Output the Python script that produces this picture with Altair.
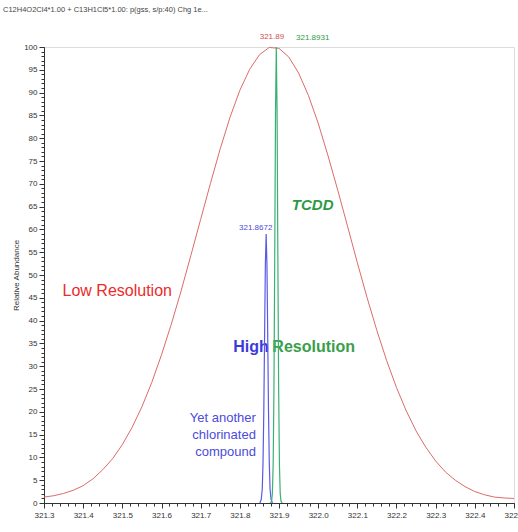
import altair as alt
import pandas as pd

# ---------------- data ----------------
low_x = [321.300, 321.325, 321.350, 321.375, 321.400, 321.425, 321.450, 321.475,
         321.500, 321.525, 321.550, 321.575, 321.600, 321.625, 321.650, 321.675,
         321.700, 321.725, 321.750, 321.775, 321.800, 321.825, 321.850, 321.875,
         321.900, 321.925, 321.950, 321.975, 322.000, 322.025, 322.050, 322.075,
         322.100, 322.125, 322.150, 322.175, 322.200, 322.225, 322.250, 322.275,
         322.300, 322.325, 322.350, 322.375, 322.400, 322.425, 322.450, 322.475,
         322.500]
low_y = [1.3, 1.6, 2.1, 2.8, 3.8, 5.3, 7.3, 9.7,
         12.8, 16.6, 21.1, 26.4, 32.5, 39.2, 46.5, 54.3,
         62.2, 70.1, 77.7, 84.6, 90.5, 95.1, 98.3, 99.9,
         99.7, 97.8, 94.3, 89.4, 83.3, 76.2, 68.6, 60.7,
         52.7, 45.0, 37.8, 31.2, 25.3, 20.2, 15.8, 12.2,
         9.2, 6.8, 5.0, 3.6, 2.5, 1.8, 1.3, 1.1,
         1.0]

blue_x = [321.8512, 321.8547, 321.8572, 321.8592, 321.8612, 321.8632, 321.8652, 321.8672,
          321.8692, 321.8712, 321.8732, 321.8752, 321.8772, 321.8797, 321.8832]
blue_y = [0, 0.8, 3.0, 8.8, 20.2, 36.7, 52.4, 59.0, 52.4, 36.7, 20.2, 8.8, 3.0, 0.8, 0]

green_x = [321.8781, 321.8811, 321.8831, 321.8851, 321.8871, 321.8891, 321.8911, 321.8931,
           321.8951, 321.8971, 321.8991, 321.9011, 321.9031, 321.9051, 321.9081]
green_y = [0, 0.4, 2.1, 8.5, 24.9, 53.9, 85.7, 100, 85.7, 53.9, 24.9, 8.5, 2.1, 0.4, 0]

x_tick_labels = [321.3, 321.4, 321.5, 321.6, 321.7, 321.8, 321.9,
                 322.0, 322.1, 322.2, 322.3, 322.4, 322.5]
x_minor_ticks = [round(321.3 + 0.02 * i, 2) for i in range(61)]
y_tick_labels = [0, 5, 10, 15, 20, 25, 30, 35, 40, 45, 50, 55, 60, 65, 70, 75,
                 80, 85, 90, 95, 100]
y_minor_ticks = list(range(0, 101))

title_text = "C12H4O2Cl4*1.00 + C13H1Cl5*1.00: p(gss, s/p:40) Chg 1e..."

peak_label_text = ["321.89", "321.8931", "321.8672"]
peak_label_x = [321.882, 321.986, 321.8405]
peak_label_y = [102.3, 102.0, 60.3]

# ---------------- styling ----------------
FONT = "Liberation Sans"
RED_LINE = "#dc6b6b"
BLUE_LINE = "#5a5ae6"
GREEN_LINE = "#3cb070"

xs = alt.Scale(domain=[321.3, 322.5], nice=False, zero=False)
ys = alt.Scale(domain=[0, 100], nice=False, zero=False)

x_major = alt.Axis(values=x_tick_labels, format=".1f", tickSize=5, labelFontSize=8,
                   labelFont=FONT, labelColor="#333", domainColor="#333",
                   tickColor="#333", grid=False, title=None, labelPadding=3,
                   orient="bottom", labelFlush=False, labelOverlap=False)
y_major = alt.Axis(values=y_tick_labels, format="d", tickSize=5, labelFontSize=8,
                   labelFont=FONT, labelColor="#333", domainColor="#333",
                   tickColor="#333", grid=False, title="Relative Abundance",
                   titleFontSize=8, titleFont=FONT, titleFontWeight="normal",
                   titleColor="#333", titlePadding=3, orient="left",
                   labelFlush=False, labelOverlap=False)
x_minor = alt.Axis(values=x_minor_ticks, labels=False, tickSize=3, domain=False,
                   tickColor="#333", grid=False, title=None, orient="bottom")
y_minor = alt.Axis(values=y_minor_ticks, labels=False, tickSize=3, domain=False,
                   tickColor="#333", grid=False, title=None, orient="left")

low_df = pd.DataFrame({"x": low_x, "y": low_y})
blue_df = pd.DataFrame({"x": blue_x, "y": blue_y})
green_df = pd.DataFrame({"x": green_x, "y": green_y})

low = alt.Chart(low_df).mark_line(color=RED_LINE, strokeWidth=1).encode(
    x=alt.X("x:Q", scale=xs, axis=x_major),
    y=alt.Y("y:Q", scale=ys, axis=y_major),
)
minor = alt.Chart(low_df).mark_line(opacity=0).encode(
    x=alt.X("x:Q", scale=xs, axis=x_minor),
    y=alt.Y("y:Q", scale=ys, axis=y_minor),
)

def line(df, color, w):
    return alt.Chart(df).mark_line(color=color, strokeWidth=w).encode(
        x=alt.X("x:Q", scale=xs, axis=None),
        y=alt.Y("y:Q", scale=ys, axis=None),
    )

def text(rows, color, size, weight="normal", style="normal", align="center"):
    df = pd.DataFrame(rows, columns=["t", "x", "y"])
    return alt.Chart(df).mark_text(
        color=color, fontSize=size, font=FONT, fontWeight=weight,
        fontStyle=style, align=align, baseline="middle"
    ).encode(
        x=alt.X("x:Q", scale=xs, axis=None),
        y=alt.Y("y:Q", scale=ys, axis=None),
        text="t:N",
    )

annotations = [
    text([["Low Resolution", 321.487, 46.5]], "#ec2b2b", 16),
    text([["TCDD", 321.986, 65.4]], "#2e9a46", 15, "bold", "italic"),
    text([["High", 321.874, 34.2]], "#3b3bdc", 16, "bold", align="right"),
    text([["Resolution", 321.883, 34.2]], "#3a9e4a", 16, "bold", align="left"),
    text([["Yet another", 321.841, 18.6],
          ["chlorinated", 321.841, 14.9],
          ["compound", 321.841, 11.2]], "#4b4bdc", 13, align="right"),
    text([[peak_label_text[0], peak_label_x[0], peak_label_y[0]]], "#d05050", 8),
    text([[peak_label_text[1], peak_label_x[1], peak_label_y[1]]], "#2e9a46", 8),
    text([[peak_label_text[2], peak_label_x[2], peak_label_y[2]]], "#4b4bdc", 8),
]

chart = alt.layer(
    low, minor, *annotations,
    line(blue_df, BLUE_LINE, 1.2),
    line(green_df, GREEN_LINE, 1.2),
).resolve_axis(x="independent", y="independent").properties(
    width=470, height=456,
    autosize=alt.AutoSizeParams(type="none"),
    padding={"left": 44, "top": 47, "right": 4, "bottom": 29},
    title=alt.TitleParams(title_text, anchor="start", frame="group", dx=-41,
                          offset=19, fontSize=7.5, font=FONT,
                          fontWeight="normal", color="#444"),
).configure_view(stroke=None).configure(background="white")

chart.save("out.html", embed_options={"renderer": "svg", "actions": False})
